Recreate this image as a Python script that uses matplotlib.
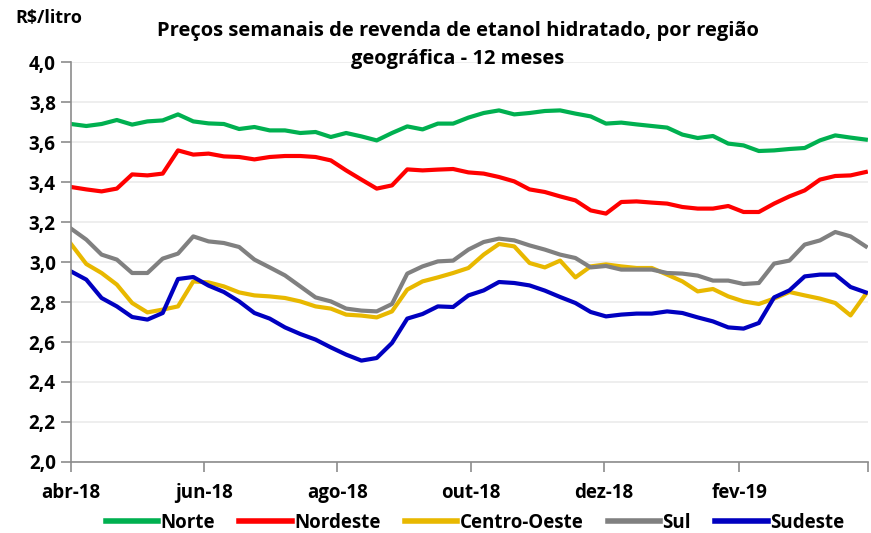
import numpy as np
import pandas as pd
import matplotlib
matplotlib.use('Agg')
import matplotlib.pyplot as plt

# ----- Data (R$/litro, weekly) -----
weeks = pd.date_range('2018-04-01', periods=53, freq='7D')

norte = [3.69, 3.68, 3.69, 3.71, 3.687, 3.703, 3.708, 3.738, 3.703, 3.693,
         3.69, 3.665, 3.675, 3.658, 3.658, 3.645, 3.65, 3.625, 3.645, 3.628,
         3.608, 3.645, 3.678, 3.663, 3.692, 3.692, 3.722, 3.745, 3.758, 3.738,
         3.745, 3.755, 3.758, 3.742, 3.728, 3.692, 3.697, 3.688, 3.68, 3.672,
         3.637, 3.62, 3.63, 3.592, 3.583, 3.555, 3.558, 3.565, 3.57, 3.608,
         3.633, 3.622, 3.612]
nordeste = [3.375, 3.363, 3.353, 3.367, 3.438, 3.433, 3.442, 3.558, 3.537, 3.542,
            3.528, 3.525, 3.513, 3.525, 3.53, 3.53, 3.525, 3.508, 3.458, 3.412,
            3.367, 3.383, 3.463, 3.458, 3.462, 3.465, 3.448, 3.442, 3.425, 3.403,
            3.363, 3.35, 3.328, 3.308, 3.258, 3.242, 3.3, 3.303, 3.297, 3.292,
            3.275, 3.267, 3.267, 3.28, 3.25, 3.25, 3.292, 3.328, 3.358, 3.412,
            3.43, 3.433, 3.45]
centro_oeste = [3.09, 2.99, 2.945, 2.887, 2.795, 2.748, 2.762, 2.778, 2.903, 2.898,
                2.878, 2.848, 2.833, 2.828, 2.82, 2.803, 2.778, 2.767, 2.737, 2.732,
                2.723, 2.753, 2.862, 2.903, 2.923, 2.945, 2.97, 3.037, 3.09, 3.078,
                2.995, 2.973, 3.007, 2.923, 2.978, 2.988, 2.978, 2.97, 2.97, 2.937,
                2.903, 2.853, 2.865, 2.828, 2.803, 2.79, 2.817, 2.85, 2.833, 2.817,
                2.795, 2.733, 2.84]
sul = [3.167, 3.112, 3.037, 3.012, 2.945, 2.945, 3.017, 3.042, 3.128, 3.103,
       3.095, 3.075, 3.012, 2.973, 2.933, 2.878, 2.823, 2.803, 2.767, 2.757,
       2.753, 2.79, 2.942, 2.978, 3.003, 3.007, 3.062, 3.1, 3.117, 3.108,
       3.083, 3.062, 3.037, 3.02, 2.973, 2.98, 2.962, 2.962, 2.962, 2.945,
       2.942, 2.932, 2.907, 2.907, 2.89, 2.895, 2.992, 3.007, 3.087, 3.108,
       3.15, 3.128, 3.078]
sudeste = [2.953, 2.912, 2.82, 2.778, 2.725, 2.712, 2.745, 2.915, 2.925, 2.882,
           2.85, 2.803, 2.745, 2.717, 2.673, 2.64, 2.612, 2.573, 2.537, 2.507,
           2.52, 2.595, 2.717, 2.74, 2.778, 2.775, 2.833, 2.858, 2.9, 2.895,
           2.883, 2.857, 2.825, 2.795, 2.75, 2.728, 2.737, 2.742, 2.742, 2.753,
           2.745, 2.723, 2.703, 2.673, 2.667, 2.695, 2.823, 2.858, 2.928, 2.937,
           2.937, 2.875, 2.848]

series_names = ['Norte', 'Nordeste', 'Centro-Oeste', 'Sul', 'Sudeste']
series_vals = [norte, nordeste, centro_oeste, sul, sudeste]
colors = ['#00B050', '#FF0000', '#E8B800', '#808080', '#0000C0']

tick_dates = pd.date_range('2018-04-01', '2019-04-01', freq='2MS')
tick_labels = ['abr-18', 'jun-18', 'ago-18', 'out-18', 'dez-18', 'fev-19', '']

# ----- Plot -----
plt.rcParams['font.family'] = ['Open Sans', 'DejaVu Sans']
plt.rcParams['font.weight'] = 'bold'
fs = 13.5

fig = plt.figure(figsize=(8.71, 5.33), dpi=100)
ax = fig.add_axes([71/871, 71/533, 797/871, 400/533])

for name, vals, c in zip(series_names, series_vals, colors):
    ax.plot(weeks, vals, color=c, lw=3, label=name, solid_joinstyle='round')

yt = np.arange(2.0, 4.01, 0.2)
ax.set_ylim(2.0, 4.0)
ax.set_yticks(yt)
ax.set_yticklabels([f'{v:.1f}'.replace('.', ',') for v in yt], fontsize=fs, fontweight='bold')
ax.set_xlim(pd.Timestamp('2018-04-01'), pd.Timestamp('2019-04-01'))
ax.set_xticks(tick_dates)
ax.set_xticklabels(tick_labels, fontsize=fs, fontweight='bold')

ax.grid(axis='y', color='#EBEBEB', lw=1.2)
ax.set_axisbelow(True)
for s in ['top', 'right']:
    ax.spines[s].set_visible(False)
for s in ['left', 'bottom']:
    ax.spines[s].set_color('#8C8C8C')
    ax.spines[s].set_linewidth(1.2)
ax.tick_params(axis='y', direction='out', length=7, width=1.2, color='#8C8C8C', pad=4)
ax.tick_params(axis='x', direction='out', length=7, width=1.2, color='#8C8C8C', pad=8)

fig.text(15/871, 1 - 18/533, 'R$/litro', fontsize=13, fontweight='bold', va='center', ha='left')
fig.text(458/871, 1 - 45/533,
         'Preços semanais de revenda de etanol hidratado, por região\ngeográfica - 12 meses',
         fontsize=14.5, fontweight='bold', ha='center', va='center', linespacing=1.55)

leg = fig.legend(loc='center', bbox_to_anchor=(475/871, 1 - 523/533), ncol=5, frameon=False,
                 fontsize=fs, handlelength=2.8, handletextpad=0.12, columnspacing=1.3)
for line in leg.get_lines():
    line.set_linewidth(4)

fig.savefig('out.png', dpi=100)
